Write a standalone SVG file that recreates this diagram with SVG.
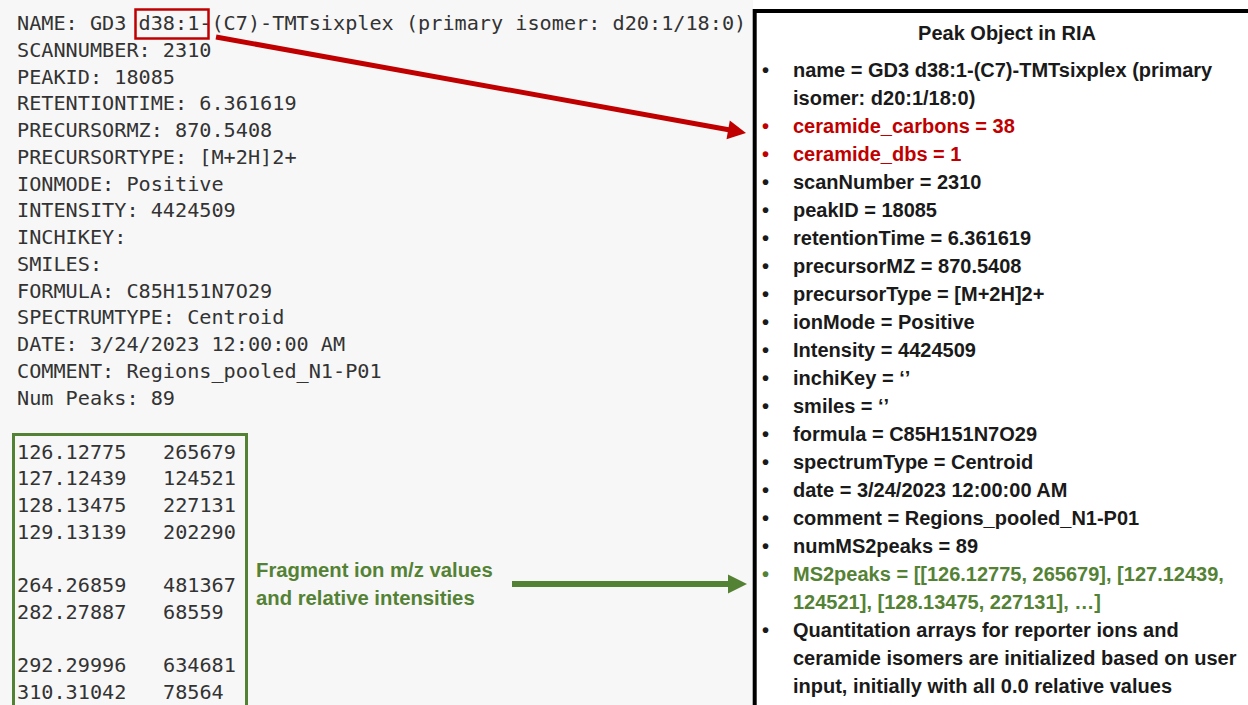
<svg xmlns="http://www.w3.org/2000/svg" width="1248" height="705" viewBox="0 0 1248 705">
<defs>
<style>
.mono{font-family:"DejaVu Sans Mono","Liberation Mono",monospace;font-size:20.2px;fill:#333333;}
.sans{font-family:"Liberation Sans",Arial,sans-serif;font-weight:bold;font-size:20px;fill:#1a1a1a;}
.red{fill:#c00000;}
.green{fill:#548235;}
</style>
</defs>
<rect x="0" y="0" width="1248" height="705" fill="#ffffff"/>
<rect x="0" y="0" width="753" height="705" fill="#f7f7f7"/>

<g id="msp-header">
<text class="mono" x="17" y="30">NAME: GD3 d38:1-(C7)-TMTsixplex (primary isomer: d20:1/18:0)</text>
<text class="mono" x="17" y="56.75">SCANNUMBER: 2310</text>
<text class="mono" x="17" y="83.5">PEAKID: 18085</text>
<text class="mono" x="17" y="110.25">RETENTIONTIME: 6.361619</text>
<text class="mono" x="17" y="137">PRECURSORMZ: 870.5408</text>
<text class="mono" x="17" y="163.75">PRECURSORTYPE: [M+2H]2+</text>
<text class="mono" x="17" y="190.5">IONMODE: Positive</text>
<text class="mono" x="17" y="217.25">INTENSITY: 4424509</text>
<text class="mono" x="17" y="244">INCHIKEY:</text>
<text class="mono" x="17" y="270.75">SMILES:</text>
<text class="mono" x="17" y="297.5">FORMULA: C85H151N7O29</text>
<text class="mono" x="17" y="324.25">SPECTRUMTYPE: Centroid</text>
<text class="mono" x="17" y="351">DATE: 3/24/2023 12:00:00 AM</text>
<text class="mono" x="17" y="377.75">COMMENT: Regions_pooled_N1-P01</text>
<text class="mono" x="17" y="404.5">Num Peaks: 89</text>
</g>

<g id="name-highlight">
<rect x="135.5" y="9.5" width="73" height="29" fill="none" stroke="#c00000" stroke-width="2.5"/>
</g>

<g id="peak-table">
<rect x="13.5" y="434.5" width="233" height="280" fill="none" stroke="#548235" stroke-width="3"/>
<text class="mono" x="17" y="458.5">126.12775</text><text class="mono" x="163" y="458.5">265679</text>
<text class="mono" x="17" y="485.2">127.12439</text><text class="mono" x="163" y="485.2">124521</text>
<text class="mono" x="17" y="512">128.13475</text><text class="mono" x="163" y="512">227131</text>
<text class="mono" x="17" y="538.7">129.13139</text><text class="mono" x="163" y="538.7">202290</text>
<text class="mono" x="17" y="592">264.26859</text><text class="mono" x="163" y="592">481367</text>
<text class="mono" x="17" y="618.8">282.27887</text><text class="mono" x="163" y="618.8">68559</text>
<text class="mono" x="17" y="672.3">292.29996</text><text class="mono" x="163" y="672.3">634681</text>
<text class="mono" x="17" y="699">310.31042</text><text class="mono" x="163" y="699">78564</text>
</g>

<g id="fragment-label">
<text class="sans green" x="256" y="577" style="font-size:20.3px">Fragment ion m/z values</text>
<text class="sans green" x="256" y="604.5" style="font-size:20.3px">and relative intensities</text>
</g>

<g id="peak-object">
<rect x="754.7" y="11" width="500" height="700" fill="#ffffff"/>
<path d="M754.7,705 V11 H1248" fill="none" stroke="#000000" stroke-width="4"/>
<text class="sans" x="1007" y="40" text-anchor="middle">Peak Object in RIA</text>
<g>
<text class="sans" x="762" y="77">•</text><text class="sans" x="793" y="77">name = GD3 d38:1-(C7)-TMTsixplex (primary</text>
<text class="sans" x="793" y="105">isomer: d20:1/18:0)</text>
<text class="sans red" x="762" y="133">•</text><text class="sans red" x="793" y="133">ceramide_carbons = 38</text>
<text class="sans red" x="762" y="161">•</text><text class="sans red" x="793" y="161">ceramide_dbs = 1</text>
<text class="sans" x="762" y="189">•</text><text class="sans" x="793" y="189">scanNumber = 2310</text>
<text class="sans" x="762" y="217">•</text><text class="sans" x="793" y="217">peakID = 18085</text>
<text class="sans" x="762" y="245">•</text><text class="sans" x="793" y="245">retentionTime = 6.361619</text>
<text class="sans" x="762" y="273">•</text><text class="sans" x="793" y="273">precursorMZ = 870.5408</text>
<text class="sans" x="762" y="301">•</text><text class="sans" x="793" y="301">precursorType = [M+2H]2+</text>
<text class="sans" x="762" y="329">•</text><text class="sans" x="793" y="329">ionMode = Positive</text>
<text class="sans" x="762" y="357">•</text><text class="sans" x="793" y="357">Intensity = 4424509</text>
<text class="sans" x="762" y="385">•</text><text class="sans" x="793" y="385">inchiKey = ‘’</text>
<text class="sans" x="762" y="413">•</text><text class="sans" x="793" y="413">smiles = ‘’</text>
<text class="sans" x="762" y="441">•</text><text class="sans" x="793" y="441">formula = C85H151N7O29</text>
<text class="sans" x="762" y="469">•</text><text class="sans" x="793" y="469">spectrumType = Centroid</text>
<text class="sans" x="762" y="497">•</text><text class="sans" x="793" y="497">date = 3/24/2023  12:00:00 AM</text>
<text class="sans" x="762" y="525">•</text><text class="sans" x="793" y="525">comment = Regions_pooled_N1-P01</text>
<text class="sans" x="762" y="553">•</text><text class="sans" x="793" y="553">numMS2peaks = 89</text>
<text class="sans green" x="762" y="581">•</text><text class="sans green" x="793" y="581">MS2peaks = [[126.12775, 265679], [127.12439,</text>
<text class="sans green" x="793" y="609">124521], [128.13475, 227131], …]</text>
<text class="sans" x="762" y="637">•</text><text class="sans" x="793" y="637">Quantitation arrays for reporter ions and</text>
<text class="sans" x="793" y="665">ceramide isomers are initialized based on user</text>
<text class="sans" x="793" y="693">input, initially with all 0.0 relative values</text>
</g>
</g>

<g id="connectors">
<line x1="216" y1="37" x2="730" y2="130" stroke="#c00000" stroke-width="5"/>
<polygon points="746,133 726.5,139.2 729.8,120.5" fill="#c00000"/>
<line x1="512" y1="584" x2="730" y2="584" stroke="#548235" stroke-width="6"/>
<polygon points="747,584 728,574.5 728,593.5" fill="#548235"/>
</g>
</svg>
